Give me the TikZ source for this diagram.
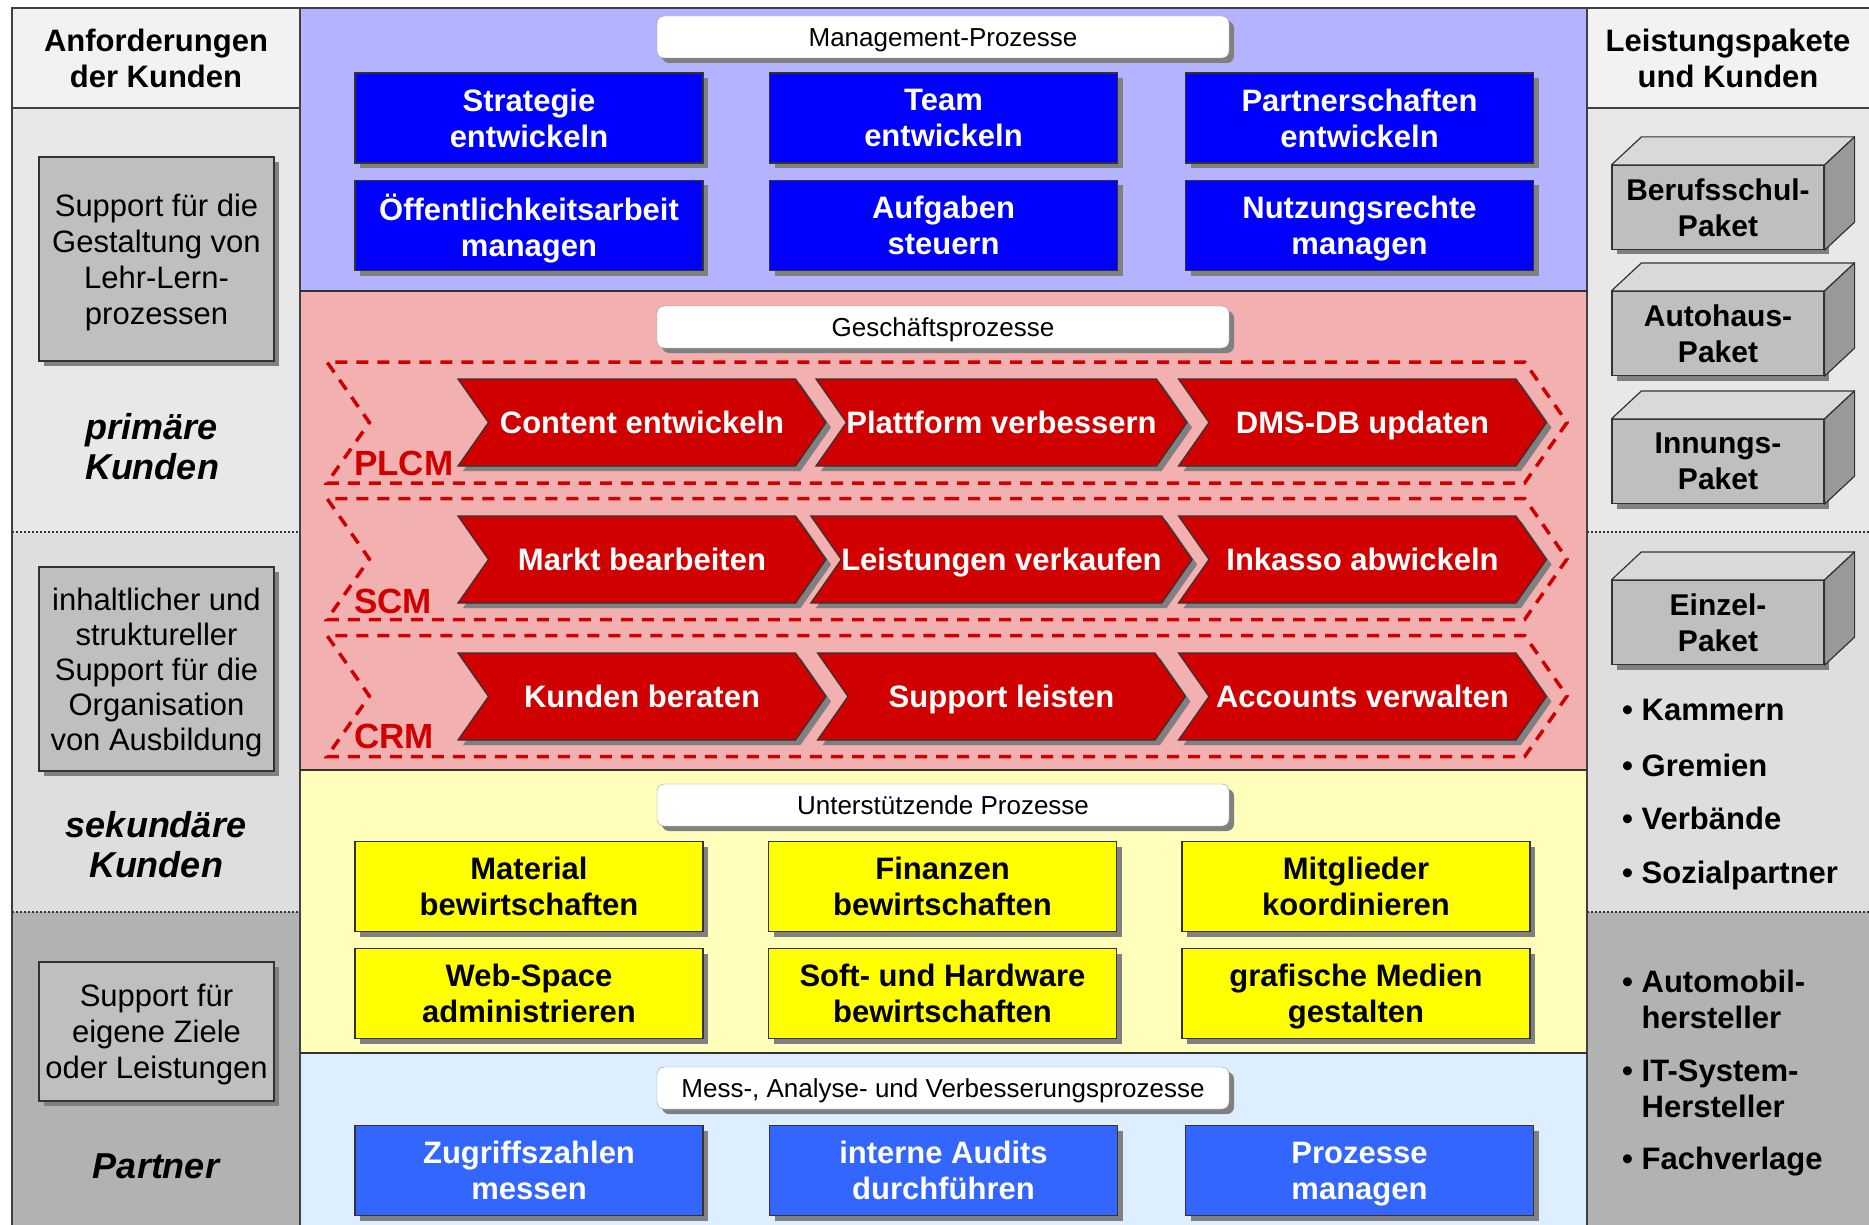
\documentclass[tikz,border=0pt]{standalone}
\usepackage{fontspec}
\setmainfont{Liberation Sans}
\usetikzlibrary{shapes.symbols, shadows, positioning}

\definecolor{mgBand}{HTML}{B3B3FF}
\definecolor{mgBox}{HTML}{0000FF}
\definecolor{gpBand}{HTML}{F2B0B0}
\definecolor{gpRed}{HTML}{D00000}
\definecolor{upBand}{HTML}{FFFFBB}
\definecolor{upBox}{HTML}{FFFF00}
\definecolor{maBand}{HTML}{DDEEFF}
\definecolor{maBox}{HTML}{3366FF}
\definecolor{colHead}{HTML}{F2F2F2}
\definecolor{colPrim}{HTML}{E8E8E8}
\definecolor{colSek}{HTML}{DEDEDE}
\definecolor{colPart}{HTML}{B2B2B2}
\definecolor{frameGray}{HTML}{404040}

\tikzset{
  px/.style={x=1pt, y=-1pt},
  shade box/.style={drop shadow={shadow xshift=5pt, shadow yshift=-5pt, fill=black!50, opacity=1}},
  % gleiche Textlage fuer alle mehrzeiligen Knoten
  even text/.style={execute at begin node={\rule{0pt}{#1}}, text depth=0pt},
  one line/.style={text height=#1, text depth=0pt},
  procbox/.style={
    draw=black!80, line width=1.2pt, minimum width=348pt, minimum height=90pt,
    align=center, font=\fontsize{31}{36}\selectfont\bfseries, even text=23pt, shade box
  },
  mgmt/.style={procbox, fill=mgBox, text=white},
  supp/.style={procbox, fill=upBox, text=black},
  meas/.style={procbox, fill=maBox, text=white},
  sectlabel/.style={
    draw=black!40, fill=white, rounded corners=7pt, minimum width=572pt,
    minimum height=42pt, font=\fontsize{26}{30}\selectfont, one line=18.6pt, shade box
  },
  chev/.style={
    shape=signal, signal from=west, signal to=east, signal pointer angle=110,
    fill=gpRed, draw=black!80, line width=1.2pt, minimum width=368pt,
    minimum height=87pt, inner sep=0pt, text=white, one line=22.2pt,
    font=\fontsize{31}{36}\selectfont\bfseries, shade box
  },
  chainband/.style={
    shape=signal, signal from=west, signal to=east, signal pointer angle=110,
    draw=gpRed, dash pattern=on 12pt off 9pt, line width=3.5pt,
    minimum width=1240pt, minimum height=121pt, inner sep=0pt
  },
  chainlabel/.style={text=gpRed, font=\fontsize{35}{36}\selectfont\bfseries, anchor=base west, inner sep=0pt},
  need/.style={
    draw=black!80, fill=black!25, line width=1.2pt, minimum width=235pt,
    align=center, font=\fontsize{31}{36}\selectfont, even text=22.5pt, shade box
  },
  colhead/.style={align=center, font=\fontsize{31}{36}\selectfont\bfseries, even text=22.5pt},
  kunden/.style={align=center, font=\fontsize{36}{40}\selectfont\bfseries\itshape, even text=26pt},
  paket/.style={
    draw=black!80, fill=black!25, line width=1.2pt, minimum width=212pt,
    minimum height=84pt, align=center, font=\fontsize{30}{36}\selectfont\bfseries,
    even text=22pt, shade box
  },
  pakettop/.style={draw=black!80, fill=black!15, line width=1.2pt, line join=round},
  paketside/.style={draw=black!80, fill=black!40, line width=1.2pt, line join=round},
  listitem/.style={
    anchor=west, align=left, inner sep=0pt, even text=22pt,
    font=\fontsize{31}{36}\selectfont\bfseries
  },
  sepline/.style={draw=frameGray, line width=2pt},
  bandline/.style={draw=black!80, line width=1.6pt},
  dotline/.style={draw=black!80, line width=2pt, dotted}
}

\begin{document}
\begin{tikzpicture}[px]
  \useasboundingbox (0,0) rectangle (1869,1225);

  % Hintergrund der Spalten und Baender
  \fill[colHead] (12,8) rectangle (300,108);
  \fill[colHead] (1587,8) rectangle (1869,108);
  \fill[colPrim] (12,108) rectangle (300,532);
  \fill[colPrim] (1587,108) rectangle (1869,532);
  \fill[colSek] (12,532) rectangle (300,912);
  \fill[colSek] (1587,532) rectangle (1869,912);
  \fill[colPart] (12,912) rectangle (300,1225);
  \fill[colPart] (1587,912) rectangle (1869,1225);
  \fill[mgBand] (300,8) rectangle (1587,291);
  \fill[gpBand] (300,291) rectangle (1587,770);
  \fill[upBand] (300,770) rectangle (1587,1053);
  \fill[maBand] (300,1053) rectangle (1587,1225);

  % Rahmen und Trennlinien
  \draw[sepline] (12,1240) -- (12,8) -- (1880,8);
  \draw[sepline] (300,8) -- (300,1240);
  \draw[sepline] (1587,8) -- (1587,1240);
  \draw[sepline] (12,108) -- (300,108);
  \draw[sepline] (1587,108) -- (1880,108);
  \draw[bandline] (300,291) -- (1587,291);
  \draw[bandline] (300,770) -- (1587,770);
  \draw[bandline] (300,1053) -- (1587,1053);
  \draw[dotline] (12,532) -- (300,532);
  \draw[dotline] (1587,532) -- (1869,532);
  \draw[dotline] (12,912) -- (300,912);
  \draw[dotline] (1587,912) -- (1869,912);

  % linke Spalte
  \node[colhead] (hA) at (156,58) {Anforderungen\\der Kunden};
  \node[need, minimum height=204pt] (n1) at (156.5,259) {Support für die\\Gestaltung von\\Lehr-Lern-\\prozessen};
  \node[kunden] (k1) at (152,446) {primäre\\Kunden};
  \node[need, minimum height=204pt, font=\fontsize{31}{35}\selectfont] (n2) at (156.5,669) {inhaltlicher und\\struktureller\\Support für die\\Organisation\\von Ausbildung};
  \node[kunden] (k2) at (156,844) {sekundäre\\Kunden};
  \node[need, minimum height=139pt] (n3) at (156.5,1031.5) {Support für\\eigene Ziele\\oder Leistungen};
  \node[kunden] (k3) at (156,1165) {Partner};

  % Management-Prozesse
  \node[sectlabel] (lMP) at (943,37) {Management-Prozesse};
  \node[mgmt] (m1) at (529,118) {Strategie\\entwickeln};
  \node[mgmt] (m2) at (943.5,118) {Team\\entwickeln};
  \node[mgmt] (m3) at (1359.5,118) {Partnerschaften\\entwickeln};
  \node[mgmt] (m4) at (529,225.5) {Öffentlichkeitsarbeit\\managen};
  \node[mgmt] (m5) at (943.5,225.5) {Aufgaben\\steuern};
  \node[mgmt] (m6) at (1359.5,225.5) {Nutzungsrechte\\managen};

  % Geschaeftsprozesse
  \node[sectlabel] (lGP) at (943,327) {Geschäftsprozesse};
  \node[chainband] (bPLCM) at (947,422.5) {};
  \node[chainband] (bSCM) at (947,559) {};
  \node[chainband] (bCRM) at (947,696) {};
  \node[chev] (c11) at (642,422.5) {Content entwickeln};
  \node[chev] (c12) at (1001.5,422.5) {Plattform verbessern};
  \node[chev] (c13) at (1362.5,422.5) {DMS-DB updaten};
  \node[chev] (c21) at (642,559.5) {Markt bearbeiten};
  \node[chev] (c22) at (1001.5,559.5) {Leistungen verkaufen};
  \node[chev] (c23) at (1362.5,559.5) {Inkasso abwickeln};
  \node[chev] (c31) at (642,696.5) {Kunden beraten};
  \node[chev] (c32) at (1001.5,696.5) {Support leisten};
  \node[chev] (c33) at (1362.5,696.5) {Accounts verwalten};
  \node[chainlabel] (tPLCM) at (354,475) {PLCM};
  \node[chainlabel] (tSCM) at (354,613) {SCM};
  \node[chainlabel] (tCRM) at (354,748) {CRM};

  % Unterstuetzende Prozesse
  \node[sectlabel] (lUP) at (943,805) {Unterstützende Prozesse};
  \node[supp] (s1) at (529,886.5) {Material\\bewirtschaften};
  \node[supp] (s2) at (942.5,886.5) {Finanzen\\bewirtschaften};
  \node[supp] (s3) at (1356,886.5) {Mitglieder\\koordinieren};
  \node[supp] (s4) at (529,993.5) {Web-Space\\administrieren};
  \node[supp] (s5) at (942.5,993.5) {Soft- und Hardware\\bewirtschaften};
  \node[supp] (s6) at (1356,993.5) {grafische Medien\\gestalten};

  % Mess-, Analyse- und Verbesserungsprozesse
  \node[sectlabel] (lMA) at (943,1088) {Mess-, Analyse- und Verbesserungsprozesse};
  \node[meas] (a1) at (529,1170.5) {Zugriffszahlen\\messen};
  \node[meas] (a2) at (943.5,1170.5) {interne Audits\\durchführen};
  \node[meas] (a3) at (1359.5,1170.5) {Prozesse\\managen};

  % rechte Spalte
  \node[colhead] (hL) at (1728,58) {Leistungspakete\\und Kunden};
  \node[paket] (p1) at (1718,207.5) {Berufsschul-\\Paket};
  \node[paket] (p2) at (1718,333.5) {Autohaus-\\Paket};
  \node[paket] (p3) at (1718,461.5) {Innungs-\\Paket};
  \node[paket] (p4) at (1718,622.5) {Einzel-\\Paket};
  \foreach \p in {p1,p2,p3,p4} {
    \draw[pakettop] (\p.north west) -- ([shift={(30,-28)}]\p.north west)
      -- ([shift={(30,-28)}]\p.north east) -- (\p.north east) -- cycle;
    \draw[paketside] (\p.north east) -- ([shift={(30,-28)}]\p.north east)
      -- ([shift={(30,-28)}]\p.south east) -- (\p.south east) -- cycle;
  }
  \node[listitem] (i1) at (1622,709) {\textbullet\ Kammern};
  \node[listitem] (i2) at (1622,765) {\textbullet\ Gremien};
  \node[listitem] (i3) at (1622,818) {\textbullet\ Verbände};
  \node[listitem] (i4) at (1622,872) {\textbullet\ Sozialpartner};
  \node[listitem] (i5) at (1622,999) {\textbullet\ Automobil-\\\phantom{\textbullet\ }hersteller};
  \node[listitem] (i6) at (1622,1089) {\textbullet\ IT-System-\\\phantom{\textbullet\ }Hersteller};
  \node[listitem] (i7) at (1622,1158) {\textbullet\ Fachverlage};
\end{tikzpicture}
\end{document}
